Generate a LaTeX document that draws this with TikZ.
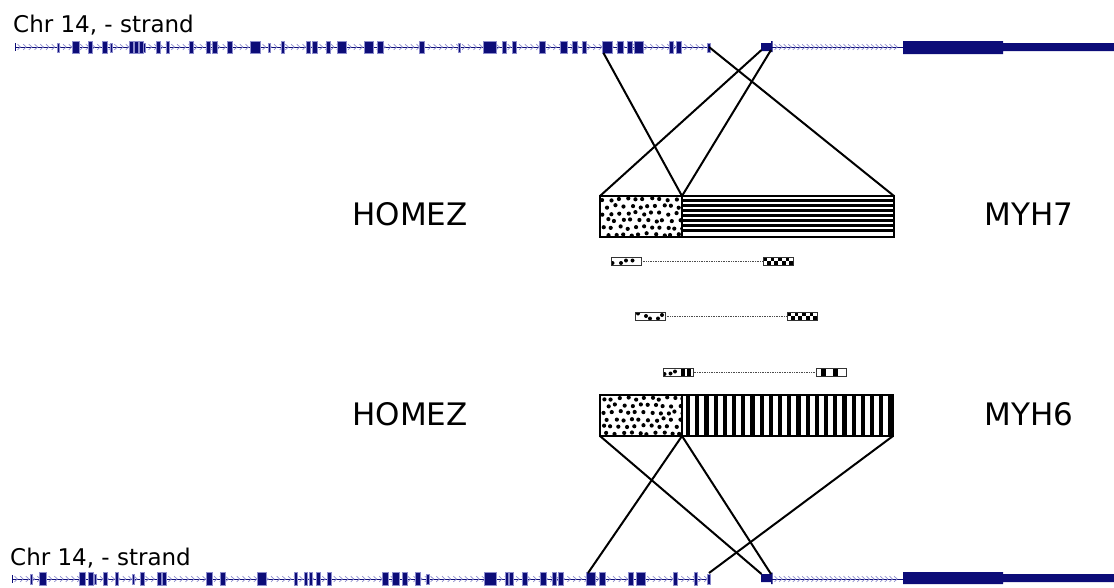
\documentclass[tikz,border=0pt]{standalone}
\usepackage{fontspec}
\setmainfont{DejaVu Sans}
\definecolor{genenavy}{RGB}{12,12,120}
\definecolor{chevpurple}{RGB}{140,140,205}
\newcommand\exonrow[3]{\foreach \a/\b in {#1} \filldraw[genenavy,draw=chevpurple,line width=0.5pt] (\a-0.3,#2) rectangle (\b+0.3,#3);}
\newcommand\chevrons[2]{\foreach \x in {#1} \draw[chevpurple,line width=0.7pt] (\x-1.5,#2-2.8) -- (\x+1.5,#2) -- (\x-1.5,#2+2.8);}
\tikzset{
  link/.style={line width=2pt},
  seg/.style={draw,line width=1.8pt,inner sep=0pt,outer sep=0pt,minimum height=41},
  read/.style={draw=black!80,line width=0.8pt,inner sep=0pt,outer sep=0pt,minimum width=30,minimum height=8},
  gap/.style={black!70,line width=0.7pt,densely dotted},
  gene/.style={font=\fontsize{31}{36}\selectfont,anchor=base},
  chrom/.style={font=\fontsize{23}{27}\selectfont,anchor=base west,inner sep=0pt},
  speckle/.style={path picture={
    \pgfmathsetseed{#1}
    \foreach \j in {0,...,5} \foreach \i in {0,...,10} {
      \pgfmathsetmacro\px{3.5+\i*8+mod(\j,2)*4+rand*1.6}
      \pgfmathsetmacro\py{3.5+\j*7+rand*1.4}
      \fill ([shift={(\px,\py)}]path picture bounding box.north west) circle (2.1pt);
    }}},
  hstripes/.style={path picture={
    \foreach \k in {0,...,6}
      \draw[line width=2.8pt] ([shift={(0,4.5+5*\k)}]path picture bounding box.north west) -- ([shift={(0,4.5+5*\k)}]path picture bounding box.north east);
    }},
  vstripes/.style={path picture={
    \foreach \k in {0,...,22}
      \fill ([shift={(4+9.2*\k,0)}]path picture bounding box.north west) rectangle ++(4.2,41);
    }},
  checker/.style={path picture={
    \foreach \k in {0,2,4,6} {
      \fill ([shift={(3.75*\k,0)}]path picture bounding box.north west) rectangle ++(3.75,4);
      \fill ([shift={(3.75*\k+3.75,4)}]path picture bounding box.north west) rectangle ++(3.75,4);
    }}},
  % marks inside a read, given as offsets from its centre
  marks/.style 2 args={path picture={
    \foreach \dx/\dy in {#1}
      \fill ([shift={(\dx,\dy)}]path picture bounding box.center) circle (2pt);
    \foreach \xa/\xb in {#2}
      \fill ([shift={(\xa,-5)}]path picture bounding box.center) rectangle ([shift={(\xb,5)}]path picture bounding box.center);
    }}
}
\begin{document}
\begin{tikzpicture}[x=1pt,y=-1pt]
\useasboundingbox (0,0) rectangle (1114,587);

% upper track
\draw[genenavy,line width=1pt] (15,47) -- (709,47) (772,47) -- (903,47) (15,43) -- (15,51);
\chevrons{19,24.7,...,706}{47}
\chevrons{776,780.6,...,900}{47}
\exonrow{73/79,89/92,103/107,130/133,135/138,140/143,157/160,167/169,190/193,207/210,213/217,228/232,251/260,282/284,307/310,313/317,327/330,338/346,365/373,378/383,420/424,484/496,503/506,513/516,540/545,561/567,573/577,583/586,603/612,618/623,628/632,635/643,670/673,677/681}{41}{53}
\exonrow{58/59.3,111/112.3,144/145.3,269/270.3,459/460.3,708/709.5}{43}{52}
\fill[genenavy] (761,43) rectangle (771,51) (771,41) rectangle (772.5,52) (903,41) rectangle (1003,54) (1003,43) rectangle (1114,51);
\node[chrom] (chrtop) at (13,32) {Chr 14, - strand};

% lower track
\draw[genenavy,line width=1pt] (12,579) -- (709,579) (772,579) -- (903,579) (12,575) -- (12,583);
\chevrons{16,21.7,...,706}{579}
\chevrons{776,780.6,...,900}{579}
\exonrow{40/46,80/85,89/93,104/107,116/118,141/144,158/161,163/166,207/212,221/225,258/266,295/297,305/307,310/312,317/320,328/331,383/388,393/399,403/407,416/420,485/496,506/508,510/513,523/527,541/546,553/556,559/563,587/595,600/605,629/633,637/645,674/677,695/697}{572.5}{585}
\exonrow{31/32.3,95/96.3,133/134.3,427/428.5,708/709.5}{574}{584}
\fill[genenavy] (761,574) rectangle (771,582) (771,572.5) rectangle (772.5,584) (903,572) rectangle (1003,584) (1003,574) rectangle (1114,582);
\node[chrom] (chrbot) at (10,565) {Chr 14, - strand};

% fusion transcripts
\node[seg,speckle=3,minimum width=82] (homez7) at (641,216.5) {};
\node[seg,hstripes,minimum width=212] (myh7) at (788,216.5) {};
\node[seg,speckle=8,minimum width=82] (homez6) at (641,415.5) {};
\node[seg,vstripes,minimum width=211] (myh6) at (787.5,415.5) {};
\node[gene] (lhomez7) at (410,225) {HOMEZ};
\node[gene] (lmyh7) at (1029,225) {MYH7};
\node[gene] (lhomez6) at (410,425) {HOMEZ};
\node[gene] (lmyh6) at (1029,425) {MYH6};

% exon boundaries
\coordinate (t1) at (603.5,53);
\coordinate (t2) at (709,47);
\coordinate (t3) at (761.5,50);
\coordinate (t4) at (771,50);
\coordinate (b1) at (588,573);
\coordinate (b2) at (709,573);
\coordinate (b3) at (761.5,574);
\coordinate (b4) at (771,574);
\draw[link] (t1) -- (homez7.north east);
\draw[link] (t2) -- (myh7.north east);
\draw[link] (t3) -- (homez7.north west);
\draw[link] (t4) -- (myh7.north west);
\draw[link] (b1) -- (homez6.south east);
\draw[link] (b2) -- (myh6.south east);
\draw[link] (b3) -- (homez6.south west);
\draw[link] (b4) -- (myh6.south west);

% read pairs
\node[read,marks={-13.5/2,-5/2,0/-0.5,6.5/-0.5}{}] (r1a) at (626,261) {};
\node[read,checker] (r1b) at (778,261) {};
\node[read,marks={-12/-2.5,-4/0,0/2.5,8/2.5,12/-1}{}] (r2a) at (650,316) {};
\node[read,checker] (r2b) at (802,316) {};
\node[read,marks={-14/2,-8/1.5,-3.5/-0.5}{2.5/6,8.5/12.5}] (r3a) at (678.5,372) {};
\node[read,marks={}{-10.5/-5.5,1.5/6.5}] (r3b) at (831.5,372) {};
\draw[gap] (r1a) -- (r1b);
\draw[gap] (r2a) -- (r2b);
\draw[gap] (r3a) -- (r3b);
\end{tikzpicture}
\end{document}
